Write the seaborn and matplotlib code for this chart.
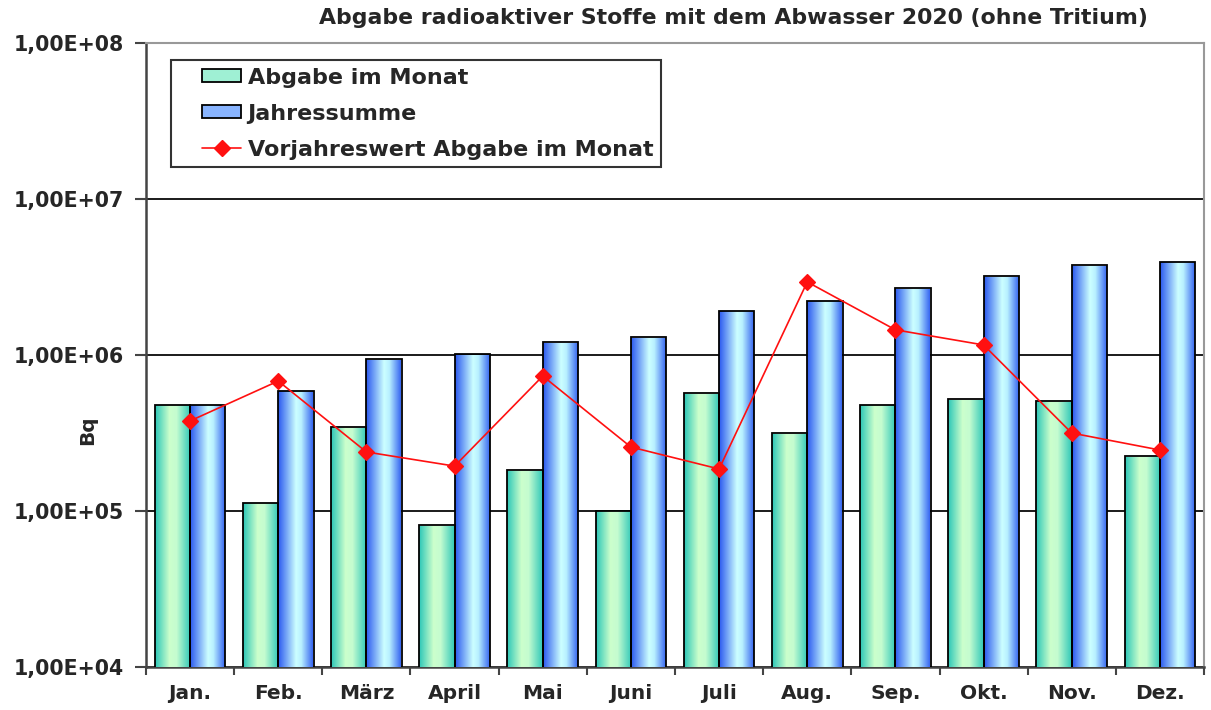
import numpy as np
import pandas as pd
import matplotlib
matplotlib.use("Agg")
import matplotlib.pyplot as plt
import seaborn as sns
from matplotlib.colors import LinearSegmentedColormap
from matplotlib.patches import Patch
from matplotlib.lines import Line2D
from matplotlib.legend_handler import HandlerPatch, HandlerLine2D
from matplotlib.ticker import FixedLocator, FuncFormatter

# Daten (Bq)
monate = ['Jan.', 'Feb.', 'März', 'April', 'Mai', 'Juni', 'Juli', 'Aug.', 'Sep.', 'Okt.', 'Nov.', 'Dez.']
abgabe_monat = [4.8e5, 1.13e5, 3.45e5, 8.1e4, 1.83e5, 1.0e5, 5.7e5, 3.16e5, 4.8e5, 5.2e5, 5.07e5, 2.25e5]
jahressumme = [4.8e5, 5.88e5, 9.4e5, 1.01e6, 1.21e6, 1.30e6, 1.92e6, 2.22e6, 2.68e6, 3.2e6, 3.77e6, 3.95e6]
vorjahr = [3.78e5, 6.81e5, 2.39e5, 1.94e5, 7.33e5, 2.57e5, 1.86e5, 2.94e6, 1.45e6, 1.16e6, 3.16e5, 2.46e5]
y_ticks = [1e4, 1e5, 1e6, 1e7, 1e8]

df = pd.DataFrame({
    'Monat': monate * 2,
    'Wert': abgabe_monat + jahressumme,
    'Reihe': ['Abgabe im Monat'] * 12 + ['Jahressumme'] * 12,
})

sns.set_style('white')
plt.rcParams['font.family'] = ['DejaVu Sans']

fig = plt.figure(figsize=(12.11, 7.10), dpi=100)
ax = fig.add_axes([146 / 1211, 1 - 667 / 710, (1204 - 146) / 1211, (667 - 43) / 710])

ax.set_yscale('log')
sns.barplot(data=df, x='Monat', y='Wert', hue='Reihe', order=monate,
            palette=['#7fe0c8', '#7fa8ff'], edgecolor='black', linewidth=1.3,
            width=0.8, legend=False, ax=ax, zorder=3)

# Farbverlauf in den Balken
cm_gruen = LinearSegmentedColormap.from_list('g', [(0, '#30c8b8'), (0.4, '#ccffcc'), (0.6, '#c4fcd0'), (1, '#30c8b8')])
cm_blau = LinearSegmentedColormap.from_list('b', [(0, '#2e5cf0'), (0.5, '#ccffff'), (0.65, '#b8f0ff'), (1, '#2e5cf0')])
grad = np.linspace(0, 1, 256).reshape(1, -1)
for i, p in enumerate(ax.patches):
    if p.get_height() <= 0 or not np.isfinite(p.get_height()):
        continue
    cmap = cm_gruen if i < 12 else cm_blau
    x0 = p.get_x()
    im = ax.imshow(grad, cmap=cmap, aspect='auto', extent=[x0, x0 + p.get_width(), 1e4, p.get_height()],
                   zorder=3.5, interpolation='bilinear')
    im.set_clip_path(p)
    p.set_zorder(4)
    p.set_facecolor('none')

sns.pointplot(x=monate, y=vorjahr, order=monate, color='#ff1010', markers='D',
              markersize=8, linewidth=1.2, ax=ax, zorder=6)
for ln in ax.lines:
    ln.set_zorder(6)

ax.set_xlim(-0.5, 11.5)
ax.set_ylim(1e4, 1e8)
ax.yaxis.set_major_locator(FixedLocator(y_ticks))
ax.yaxis.set_minor_locator(FixedLocator([]))
ax.yaxis.set_major_formatter(FuncFormatter(lambda v, pos: '1,00E+%02d' % int(round(np.log10(v)))))
ax.grid(axis='y', color='#1a1a1a', linewidth=1.4, zorder=1)
ax.set_axisbelow(True)

ax.set_xticks(range(12))
ax.set_xticklabels(monate)
ax.set_xticks(np.arange(-0.5, 12, 1), minor=True)
ax.tick_params(axis='x', which='major', length=0, pad=12, labelsize=14.5)
ax.tick_params(axis='x', which='minor', length=6, width=1.5, color='#444444', direction='out', bottom=True)
ax.tick_params(axis='y', which='major', length=8, width=1.5, color='#444444', direction='out', left=True,
               labelsize=14.8, pad=8)
for lab in ax.get_xticklabels() + ax.get_yticklabels():
    lab.set_fontweight('bold')

ax.set_xlabel('')
ax.set_ylabel('Bq', fontsize=14.5, fontweight='bold')
ax.yaxis.set_label_coords((97 - 146) / 1058, (667 - 430) / 624)

for side in ['left', 'bottom']:
    ax.spines[side].set_color('#444444')
    ax.spines[side].set_linewidth(1.8)
for side in ['top', 'right']:
    ax.spines[side].set_visible(True)
    ax.spines[side].set_color('#999999')
    ax.spines[side].set_linewidth(1.5)

handles = [
    Patch(facecolor='#9ff0d4', edgecolor='black', linewidth=1.3, label='Abgabe im Monat'),
    Patch(facecolor='#88b4ff', edgecolor='black', linewidth=1.3, label='Jahressumme'),
    Line2D([0], [0], color='#ff1010', marker='D', markersize=8, linewidth=1.2,
           label='Vorjahreswert Abgabe im Monat'),
]
leg = ax.legend(handles=handles, loc='upper left', bbox_to_anchor=(0.0236, 0.973), borderaxespad=0,
                prop={'size': 16, 'weight': 'bold'}, frameon=True, fancybox=False,
                edgecolor='#333333', framealpha=1, handlelength=2.8, handleheight=0.55,
                borderpad=0.35, labelspacing=0.72, handletextpad=0.3,
                handler_map={Patch: HandlerPatch(xpad=1.05), Line2D: HandlerLine2D(xpad=1.05)})
leg.get_frame().set_linewidth(1.5)
leg.set_zorder(10)

fig.text(733 / 1211, 1 - 18 / 710, 'Abgabe radioaktiver Stoffe mit dem Abwasser 2020 (ohne Tritium)',
         ha='center', va='center', fontsize=15.8, fontweight='bold')

fig.savefig('out.png', dpi=100)
